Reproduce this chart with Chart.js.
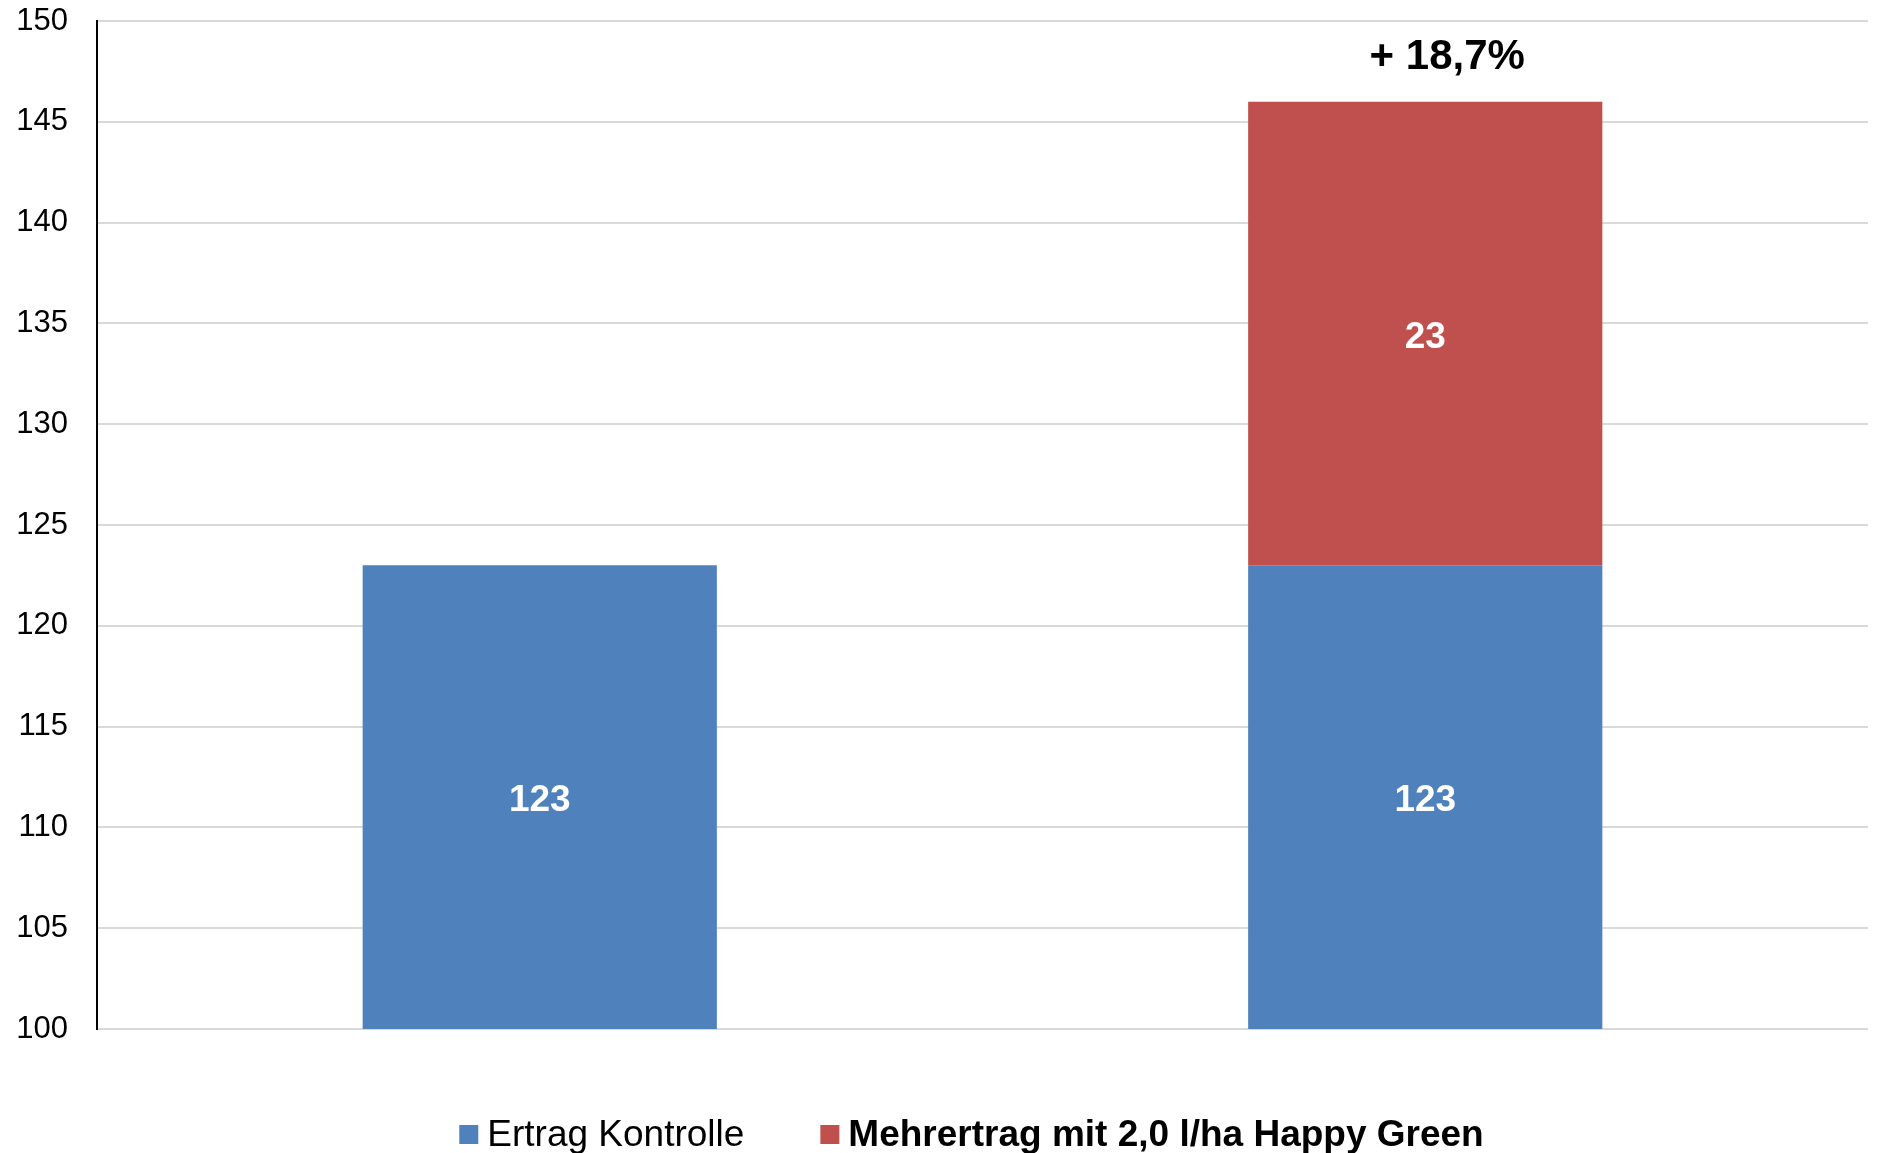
<!DOCTYPE html>
<html>
<head>
<meta charset="utf-8">
<script src="https://cdn.jsdelivr.net/npm/chart.js@4"></script>
<style>
  html, body { margin: 0; padding: 0; background: #fff; }
  #wrap { width: 1878px; height: 1153px; }
</style>
</head>
<body>
<div id="wrap"><canvas id="barChart"></canvas></div>
<script>
const categories = ['Kontrolle', 'Happy Green'];
const ertragKontrolle = [123, 123];
const mehrertrag = [null, 23];
const topLabels = ['', '+ 18,7%'];
const yTicks = [100, 105, 110, 115, 120, 125, 130, 135, 140, 145, 150];

const FONT = "'Liberation Sans', Arial, sans-serif";

// white numbers inside each bar segment + percentage above the stack
const barLabels = {
    id: 'barLabels',
    afterDatasetsDraw(chart) {
        const ctx = chart.ctx;
        const area = chart.chartArea;
        ctx.save();
        ctx.textAlign = 'center';
        ctx.textBaseline = 'middle';
        chart.data.datasets.forEach((ds, i) => {
            chart.getDatasetMeta(i).data.forEach((bar, j) => {
                if (ds.data[j] == null) return;
                const p = bar.getProps(['x', 'y', 'base']);
                const base = Math.min(p.base, area.bottom);
                ctx.fillStyle = '#fff';
                ctx.font = 'bold 37px ' + FONT;
                ctx.fillText(String(ds.data[j]), p.x, (p.y + base) / 2 + 4);
            });
        });
        const last = chart.getDatasetMeta(chart.data.datasets.length - 1).data;
        topLabels.forEach((txt, j) => {
            if (!txt) return;
            const p = last[j].getProps(['x', 'y']);
            ctx.fillStyle = '#000';
            ctx.font = 'bold 42px ' + FONT;
            ctx.fillText(txt, p.x + 22, p.y - 44);
        });
        ctx.restore();
    }
};

// legend drawn by hand: second entry is bold in the original
const customLegend = {
    id: 'customLegend',
    afterDraw(chart) {
        const ctx = chart.ctx;
        const area = chart.chartArea;
        const fonts = ['37px ' + FONT, 'bold 37px ' + FONT];
        const box = 19, gapText = 9, gapItem = 76;
        ctx.save();
        let total = 0;
        const widths = chart.data.datasets.map((ds, i) => {
            ctx.font = fonts[i];
            const w = ctx.measureText(ds.label).width;
            total += box + gapText + w;
            return w;
        });
        total += gapItem * (widths.length - 1);
        let x = (area.left + area.right) / 2 - 11 - total / 2;
        const y = 1134;
        ctx.textBaseline = 'middle';
        ctx.textAlign = 'left';
        chart.data.datasets.forEach((ds, i) => {
            ctx.fillStyle = ds.backgroundColor;
            ctx.fillRect(x, y - 9, box, box);
            x += box + gapText;
            ctx.fillStyle = '#000';
            ctx.font = fonts[i];
            ctx.fillText(ds.label, x, y + 2);
            x += widths[i] + gapItem;
        });
        ctx.restore();
    }
};

new Chart(document.getElementById('barChart'), {
    type: 'bar',
    data: {
        labels: categories,
        datasets: [
            {
                label: 'Ertrag Kontrolle',
                data: ertragKontrolle,
                backgroundColor: '#4f81bd',
                barPercentage: 0.8,
                categoryPercentage: 0.5
            },
            {
                label: 'Mehrertrag mit 2,0 l/ha Happy Green',
                data: mehrertrag,
                backgroundColor: '#c0504d',
                barPercentage: 0.8,
                categoryPercentage: 0.5
            }
        ]
    },
    options: {
        responsive: true,
        maintainAspectRatio: false,
        animation: false,
        layout: { padding: { top: 21, right: 10, bottom: 124, left: 0 } },
        plugins: {
            legend: { display: false },
            tooltip: { enabled: false }
        },
        scales: {
            x: {
                stacked: true,
                display: false
            },
            y: {
                stacked: true,
                min: 100,
                max: 150,
                afterFit(scale) {
                    scale.width = 97;
                    scale.paddingTop = 0;
                    scale.paddingBottom = 0;
                },
                afterBuildTicks(scale) { scale.ticks = yTicks.map(v => ({ value: v })); },
                border: { display: true, color: '#000', width: 2 },
                grid: { color: '#d9d9d9', lineWidth: 2, drawTicks: false },
                ticks: {
                    color: '#000',
                    padding: 29,
                    font: { family: FONT, size: 31 }
                }
            }
        }
    },
    plugins: [barLabels, customLegend]
});
</script>
</body>
</html>
